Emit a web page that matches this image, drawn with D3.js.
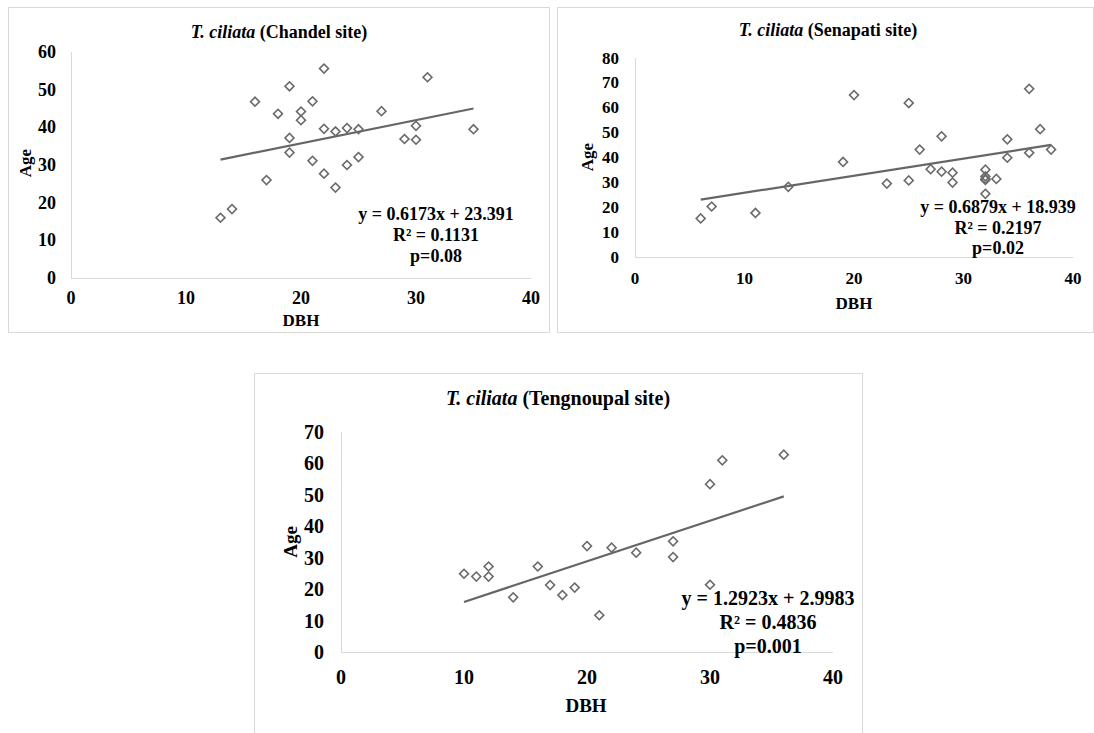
<!DOCTYPE html>
<html>
<head>
<meta charset="utf-8">
<script src="https://cdn.jsdelivr.net/npm/d3@7"></script>
<style>
  html, body { margin: 0; padding: 0; background: #fff; }
  svg { display: block; font-family: "Liberation Serif", "Times New Roman", serif; font-weight: bold; }
</style>
</head>
<body>
<svg id="chart" width="1094" height="733"></svg>
<script>
// values
const xTicks = [0, 10, 20, 30, 40];

const chandelDBH = [13, 14, 16, 17, 18, 19, 19, 19, 20, 20, 21, 21, 22, 22, 22, 23, 23, 24, 24, 25, 25, 27, 29, 30, 30, 31, 35];
const chandelAge = [16.0, 18.3, 46.8, 26.0, 43.6, 50.9, 37.2, 33.3, 44.2, 41.9, 46.9, 31.1, 55.6, 39.6, 27.7, 38.9, 24.0, 39.8, 30.0, 39.5, 32.1, 44.3, 36.9, 40.4, 36.7, 53.3, 39.5];
const chandelYTicks = [0, 10, 20, 30, 40, 50, 60];
const chandelFit = [0.6173, 23.391];
const chandelLabels = ["y = 0.6173x + 23.391", "R² = 0.1131", "p=0.08"];

const senapatiDBH = [6, 7, 11, 14, 19, 20, 23, 25, 25, 26, 27, 28, 28, 29, 29, 32, 32, 32, 32, 32, 33, 34, 34, 36, 36, 37, 38];
const senapatiAge = [15.5, 20.3, 17.7, 28.2, 38.2, 65.1, 29.5, 61.9, 30.8, 43.2, 35.3, 48.5, 34.3, 33.9, 29.9, 35.1, 32.4, 31.4, 31.0, 25.4, 31.4, 47.3, 39.9, 67.6, 41.9, 51.4, 43.2];
const senapatiYTicks = [0, 10, 20, 30, 40, 50, 60, 70, 80];
const senapatiFit = [0.6879, 18.939];
const senapatiLabels = ["y = 0.6879x + 18.939", "R² = 0.2197", "p=0.02"];

const tengnoupalDBH = [10, 11, 12, 12, 14, 16, 17, 18, 19, 20, 21, 22, 24, 27, 27, 30, 30, 31, 36];
const tengnoupalAge = [24.9, 24.0, 27.2, 24.0, 17.4, 27.2, 21.3, 18.1, 20.5, 33.7, 11.7, 33.2, 31.6, 35.2, 30.2, 21.4, 53.4, 61.0, 62.8];
const tengnoupalYTicks = [0, 10, 20, 30, 40, 50, 60, 70];
const tengnoupalFit = [1.2923, 2.9983];
const tengnoupalLabels = ["y = 1.2923x + 2.9983", "R² = 0.4836", "p=0.001"];

// layout of the three panels
const panels = [
  {site: "Chandel", dbh: chandelDBH, age: chandelAge, yTicks: chandelYTicks, fit: chandelFit, labels: chandelLabels,
   box: [8, 7, 541, 325], plot: {l: 71, r: 531, t: 52, b: 278},
   title: [279, 32, 18], tick: 18, yTickX: 56, xTickY: 298, dbhPos: [301, 320], agePos: [25, 163], axisFs: 17,
   eq: [436, 214, 21, 18]},
  {site: "Senapati", dbh: senapatiDBH, age: senapatiAge, yTicks: senapatiYTicks, fit: senapatiFit, labels: senapatiLabels,
   box: [557, 7, 536, 325], plot: {l: 635, r: 1073, t: 58, b: 257},
   title: [828, 30, 18], tick: 17, yTickX: 619, xTickY: 278, dbhPos: [854, 303], agePos: [587, 157], axisFs: 17,
   eq: [998, 207, 20.5, 18]},
  {site: "Tengnoupal", dbh: tengnoupalDBH, age: tengnoupalAge, yTicks: tengnoupalYTicks, fit: tengnoupalFit, labels: tengnoupalLabels,
   box: [254, 373, 608, 380], plot: {l: 341, r: 833, t: 432, b: 652},
   title: [558, 398, 20], tick: 20, yTickX: 324, xTickY: 677, dbhPos: [586, 705], agePos: [290, 542], axisFs: 19,
   eq: [768, 598, 24, 20]}
];

const svg = d3.select("#chart");

panels.forEach(p => {
  const g = svg.append("g").attr("class", "panel");

  g.append("rect")
    .attr("x", p.box[0] + 0.5).attr("y", p.box[1] + 0.5)
    .attr("width", p.box[2]).attr("height", p.box[3])
    .attr("fill", "#fff").attr("stroke", "#d9d9d9");

  const yMax = p.yTicks[p.yTicks.length - 1];
  const x = d3.scaleLinear().domain([0, 40]).range([p.plot.l, p.plot.r]);
  const y = d3.scaleLinear().domain([0, yMax]).range([p.plot.b, p.plot.t]);

  // faint axis lines
  g.append("line")
    .attr("x1", x(0)).attr("x2", x(40)).attr("y1", y(0) + 0.5).attr("y2", y(0) + 0.5)
    .attr("stroke", "#d9d9d9");
  g.append("line")
    .attr("x1", x(0) + 0.5).attr("x2", x(0) + 0.5).attr("y1", y(0)).attr("y2", y(yMax))
    .attr("stroke", "#d9d9d9");

  // tick labels
  g.selectAll("text.ytick").data(p.yTicks).enter().append("text")
    .attr("class", "ytick")
    .attr("x", p.yTickX).attr("y", d => y(d))
    .attr("text-anchor", "end").attr("dominant-baseline", "central")
    .attr("font-size", p.tick)
    .text(d => d);
  g.selectAll("text.xtick").data(xTicks).enter().append("text")
    .attr("class", "xtick")
    .attr("x", d => x(d)).attr("y", p.xTickY)
    .attr("text-anchor", "middle").attr("dominant-baseline", "central")
    .attr("font-size", p.tick)
    .text(d => d);

  // title
  const t = g.append("text")
    .attr("x", p.title[0]).attr("y", p.title[1])
    .attr("text-anchor", "middle").attr("dominant-baseline", "central")
    .attr("font-size", p.title[2]);
  t.append("tspan").attr("font-style", "italic").text("T. ciliata");
  t.append("tspan").text(` (${p.site} site)`);

  // axis titles
  g.append("text")
    .attr("x", p.dbhPos[0]).attr("y", p.dbhPos[1])
    .attr("text-anchor", "middle").attr("dominant-baseline", "central")
    .attr("font-size", p.axisFs)
    .text("DBH");
  g.append("text")
    .attr("transform", `translate(${p.agePos[0]},${p.agePos[1]}) rotate(-90)`)
    .attr("text-anchor", "middle").attr("dominant-baseline", "central")
    .attr("font-size", p.axisFs)
    .text("Age");

  // linear trend line
  const ext = d3.extent(p.dbh);
  const line = d3.line().x(d => x(d)).y(d => y(p.fit[0] * d + p.fit[1]));
  g.append("path")
    .attr("d", line(ext))
    .attr("fill", "none").attr("stroke", "#666").attr("stroke-width", 2.2);

  // hollow diamond markers
  const diamond = d3.symbol().type(d3.symbolSquare).size(40);
  g.selectAll("path.pt").data(p.dbh).enter().append("path")
    .attr("class", "pt")
    .attr("d", diamond)
    .attr("transform", (d, i) => `translate(${x(d)},${y(p.age[i])}) rotate(45)`)
    .attr("fill", "none").attr("stroke", "#6b6b6b").attr("stroke-width", 1.6);

  // equation text
  g.selectAll("text.eq").data(p.labels).enter().append("text")
    .attr("class", "eq")
    .attr("x", p.eq[0]).attr("y", (d, i) => p.eq[1] + i * p.eq[2])
    .attr("text-anchor", "middle").attr("dominant-baseline", "central")
    .attr("font-size", p.eq[3])
    .text(d => d);
});
</script>
</body>
</html>
